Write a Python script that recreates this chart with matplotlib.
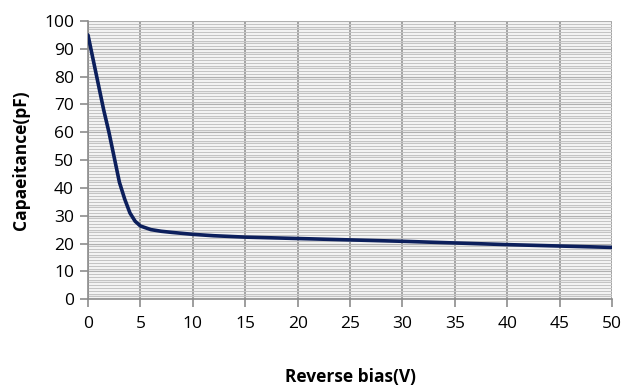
import numpy as np
import matplotlib.pyplot as plt
from matplotlib.ticker import MultipleLocator

# Reverse bias (V) vs capacitance (pF)
bias = [0, 0.5, 1, 1.5, 2, 2.5, 3, 3.5, 4, 4.5, 5, 6, 7, 8, 10, 12, 15, 20, 25, 30, 35, 40, 45, 50]
cap = [95, 86, 77, 68, 60, 51, 42, 36, 31, 28, 26.3, 25, 24.4, 24, 23.3, 22.8, 22.3, 21.8, 21.3, 20.8, 20.2, 19.6, 19.1, 18.6]

plt.rcParams['font.family'] = ['Open Sans', 'DejaVu Sans']

fig = plt.figure(figsize=(6.24, 3.9), dpi=100)
ax = fig.add_axes([0.141, 0.233, 0.840, 0.713])

ax.plot(bias, cap, color='#0c1f5c', linewidth=2.6, solid_capstyle='round', zorder=3)

ax.set_xlim(0, 50)
ax.set_ylim(0, 100)
ax.xaxis.set_major_locator(MultipleLocator(5))
ax.yaxis.set_major_locator(MultipleLocator(10))
ax.yaxis.set_minor_locator(MultipleLocator(1))

ax.grid(which='minor', axis='y', color='#c4c4c4', linewidth=1.0)
ax.grid(which='major', axis='y', color='#b0b0b0', linewidth=1.0)
ax.grid(which='major', axis='x', color='#8c8c8c', linewidth=1.2)
ax.set_axisbelow(True)

for s in ['top', 'right']:
    ax.spines[s].set_visible(False)
for s in ['left', 'bottom']:
    ax.spines[s].set_color('#8c8c8c')
    ax.spines[s].set_linewidth(1.2)

ax.tick_params(which='major', length=6, width=1.2, color='#8c8c8c', labelsize=12.5, pad=4)
ax.tick_params(which='minor', length=0)
ax.tick_params(axis='x', pad=6)

ax.set_xlabel('Reverse bias(V)', fontsize=12.5, fontweight='bold', labelpad=26)
ax.set_ylabel('Capaeitance(pF)', fontsize=12.5, fontweight='bold', labelpad=10)

fig.savefig('out.png', dpi=100)
